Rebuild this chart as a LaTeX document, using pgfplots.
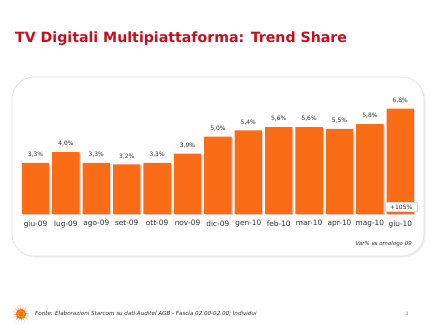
\documentclass[border=0pt]{standalone}
\usepackage{pgfplots}
\pgfplotsset{compat=1.18}
\usepackage{pgfplotstable}
\usepackage{fontspec}
\setmainfont{DejaVu Sans}
\usetikzlibrary{shadows}
\definecolor{barorange}{RGB}{250,108,22}
\definecolor{titlered}{RGB}{196,16,30}
\definecolor{txt}{RGB}{50,50,50}
\pgfplotstableread{
x val
0 3.3
1 4.0
2 3.3
3 3.2
4 3.3
5 3.9
6 5.0
7 5.4
8 5.6
9 5.6
10 5.5
11 5.8
12 6.8
}\share
\begin{document}
\begin{tikzpicture}[x=1bp,y=1bp]
\path[use as bounding box] (0,0) rectangle (440,330);
% title
\node[anchor=west, text=titlered, font=\bfseries\fontsize{14.2}{16}\selectfont, inner sep=0] at (15,291) {TV Digitali Multipiattaforma: Trend Share};
% rounded panel
\draw[rounded corners=22bp, draw=black!12, fill=white, line width=0.6pt,
      drop shadow={shadow xshift=1.5bp, shadow yshift=-1.5bp, opacity=0.12}]
      (12,74) rectangle (424,253);
\begin{axis}[
  at={(20.3bp,116bp)}, anchor=south west,
  scale only axis, width=395.2bp, height=116.25bp,
  xmin=-0.5, xmax=12.5, ymin=0, ymax=7.5,
  axis line style={draw=none},
  ytick=\empty,
  xtick=data,
  xticklabels={giu-09,lug-09,ago-09,set-09,ott-09,nov-09,dic-09,gen-10,feb-10,mar-10,apr-10,mag-10,giu-10},
  major tick length=0pt,
  xticklabel style={font=\fontsize{7.4}{8}\selectfont, text=txt, yshift=-3bp},
  clip=false,
  ybar, bar width=0.9,
  nodes near coords={\pgfmathprintnumber[fixed,fixed zerofill,precision=1,use comma,assume math mode=true]{\pgfplotspointmeta}\%},
  nodes near coords style={font=\fontsize{6}{7}\selectfont, text=txt, yshift=2bp},
]
\addplot[fill=barorange, draw=none,
  drop shadow={shadow xshift=1.2bp, shadow yshift=-1.2bp, opacity=0.35}]
  table[x=x, y=val] {\share};
\node[fill=white, draw=black!15, font=\fontsize{6}{7}\selectfont, text=txt, inner sep=0pt,
      minimum width=32bp, minimum height=8.5bp, drop shadow={shadow xshift=1bp, shadow yshift=-1bp, opacity=0.3}]
      at (axis cs:12.03,0.46) {+105\%};
\end{axis}
% note
\node[anchor=east, font=\itshape\fontsize{5.5}{6}\selectfont, text=txt, inner sep=0] at (412,86) {Var\% vs omologo 09};
% footer logo
\begin{scope}[shift={(21,16)}]
  \foreach \a in {0,22.5,...,337.5} {
    \fill[barorange!90!yellow] (\a:3.5) -- (\a+8:3.5) -- (\a+4:8.5) -- cycle;
  }
  \fill[barorange] (0,0) circle (5);
  \draw[yellow!60!orange, line width=0.5pt] (0,0) circle (3);
\end{scope}
\node[anchor=west, font=\itshape\fontsize{5.6}{6}\selectfont, text=txt, inner sep=0] at (35,16) {Fonte: Elaborazioni Starcom su dati Auditel AGB - Fascia 02.00-02.00; Individui};
\node[font=\fontsize{4.5}{5}\selectfont, text=txt!70, inner sep=0] at (407,16) {3};
\end{tikzpicture}
\end{document}
